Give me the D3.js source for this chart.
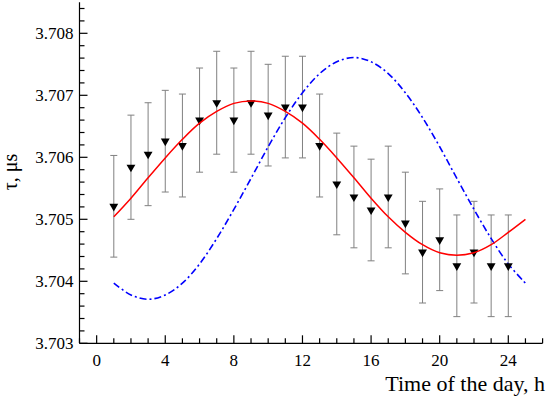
<!DOCTYPE html>
<html>
<head>
<meta charset="utf-8">
<script src="https://cdn.jsdelivr.net/npm/d3@7"></script>
<style>
  html, body { margin: 0; padding: 0; background: #fff; }
  svg { display: block; }
  text { font-family: "Liberation Serif", "Times New Roman", serif; fill: #000; }
</style>
</head>
<body>
<svg id="chart" width="548" height="399"></svg>
<script>
// measured points (hour of day, tau in microseconds, error)
const hours = [1, 2, 3, 4, 5, 6, 7, 8, 9, 10, 11, 12, 13, 14, 15, 16, 17, 18, 19, 20, 21, 22, 23, 24];
const tau = [3.70521, 3.70584, 3.70605, 3.70626, 3.70619, 3.7066, 3.70688, 3.7066, 3.70688, 3.70668,
  3.70681, 3.70681, 3.70619, 3.70557, 3.70536, 3.70515, 3.70536, 3.70494, 3.70447, 3.70467,
  3.70425, 3.70447, 3.70425, 3.70425];
const err = [0.00082, 0.00084, 0.00083, 0.00082, 0.00083, 0.00084, 0.00083, 0.00084, 0.00083, 0.00082,
  0.00082, 0.00082, 0.00083, 0.00082, 0.00082, 0.00082, 0.00082, 0.00082, 0.00082, 0.00082,
  0.00082, 0.00082, 0.00082, 0.00082];

// red fitted curve
const fitHours = [1, 2, 3, 4, 5, 6, 7, 8, 9, 10, 11, 12, 13, 14, 15, 16, 17, 18, 19, 20, 21, 22, 23, 24, 25];
const fitTau = [3.70504, 3.70534, 3.70567, 3.70599, 3.70629, 3.70655, 3.70674, 3.70687, 3.70691, 3.70687,
  3.70674, 3.70655, 3.70629, 3.70599, 3.70567, 3.70534, 3.70504, 3.70479, 3.70459, 3.70446,
  3.70442, 3.70446, 3.70459, 3.70479, 3.70500];

// blue dash-dot curve
const blueHours = [1, 2, 3, 4, 5, 6, 7, 8, 9, 10, 11, 12, 13, 14, 15, 16, 17, 18, 19, 20, 21, 22, 23, 24, 25];
const blueTau = [3.70397, 3.70378, 3.70371, 3.70378, 3.70397, 3.70428, 3.70469, 3.70516, 3.70566, 3.70617,
  3.70664, 3.70704, 3.70735, 3.70754, 3.70761, 3.70754, 3.70735, 3.70704, 3.70664, 3.70617,
  3.70566, 3.70516, 3.70469, 3.70428, 3.70397];

const xTicks = [0, 4, 8, 12, 16, 20, 24];
const yTicks = [3.703, 3.704, 3.705, 3.706, 3.707, 3.708];

const svg = d3.select("#chart");
const x = d3.scaleLinear().domain([-1, 26]).range([79.5, 542.6]);
const y = d3.scaleLinear().domain([3.703, 3.7085]).range([343.3, 2.3]);

// error bars
const eb = svg.append("g").attr("stroke", "#808080").attr("stroke-width", 1).attr("fill", "none");
hours.forEach((h, i) => {
  const cx = x(h), y0 = y(tau[i] - err[i]), y1 = y(tau[i] + err[i]);
  eb.append("line").attr("x1", cx).attr("x2", cx).attr("y1", y0).attr("y2", y1);
  eb.append("line").attr("x1", cx - 3.5).attr("x2", cx + 3.5).attr("y1", y0).attr("y2", y0);
  eb.append("line").attr("x1", cx - 3.5).attr("x2", cx + 3.5).attr("y1", y1).attr("y2", y1);
});

// blue dash-dot
svg.append("path")
  .datum(blueHours.map((h, i) => [h, blueTau[i]]))
  .attr("fill", "none")
  .attr("stroke", "#0000ff")
  .attr("stroke-width", 1.6)
  .attr("stroke-dasharray", "7,3,2,3")
  .attr("d", d3.line().x(d => x(d[0])).y(d => y(d[1])).curve(d3.curveCatmullRom));

// markers
svg.append("g").selectAll("path")
  .data(hours)
  .join("path")
  .attr("d", d3.symbol(d3.symbolTriangle, 34))
  .attr("transform", (d, i) => `translate(${x(d)},${y(tau[i])}) rotate(180)`)
  .attr("fill", "#000");

// red fit
svg.append("path")
  .datum(fitHours.map((h, i) => [h, fitTau[i]]))
  .attr("fill", "none")
  .attr("stroke", "#ff0000")
  .attr("stroke-width", 1.5)
  .attr("d", d3.line().x(d => x(d[0])).y(d => y(d[1])).curve(d3.curveCatmullRom));

// axes
const axes = svg.append("g").attr("stroke", "#000").attr("stroke-width", 1.2);
axes.append("line").attr("x1", x(-1)).attr("x2", x(-1)).attr("y1", y(3.7085)).attr("y2", y(3.703));
axes.append("line").attr("x1", x(-1)).attr("x2", x(26)).attr("y1", y(3.703)).attr("y2", y(3.703));

d3.range(0, 28).map(k => 3.703 + k * 0.0002).forEach((v, k) => {
  const len = k % 5 === 0 ? 8 : 5;
  axes.append("line").attr("x1", x(-1)).attr("x2", x(-1) + len).attr("y1", y(v)).attr("y2", y(v));
});
d3.range(-1, 27).forEach(h => {
  const len = h % 4 === 0 ? 8 : 5;
  axes.append("line").attr("x1", x(h)).attr("x2", x(h)).attr("y1", y(3.703)).attr("y2", y(3.703) - len);
});

svg.append("g").selectAll("text")
  .data(yTicks)
  .join("text")
  .attr("x", x(-1) - 6)
  .attr("y", d => y(d))
  .attr("dy", "0.35em")
  .attr("text-anchor", "end")
  .attr("font-size", 17)
  .text(d => d3.format(".3f")(d));

svg.append("g").selectAll("text")
  .data(xTicks)
  .join("text")
  .attr("x", d => x(d))
  .attr("y", 366)
  .attr("text-anchor", "middle")
  .attr("font-size", 17)
  .text(d => d);

svg.append("text")
  .attr("x", 545)
  .attr("y", 391)
  .attr("text-anchor", "end")
  .attr("font-size", 22)
  .text("Time of the day, h");

svg.append("text")
  .attr("transform", "translate(17,172) rotate(-90)")
  .attr("text-anchor", "middle")
  .attr("font-size", 20)
  .text("τ, μs");
</script>
</body>
</html>
